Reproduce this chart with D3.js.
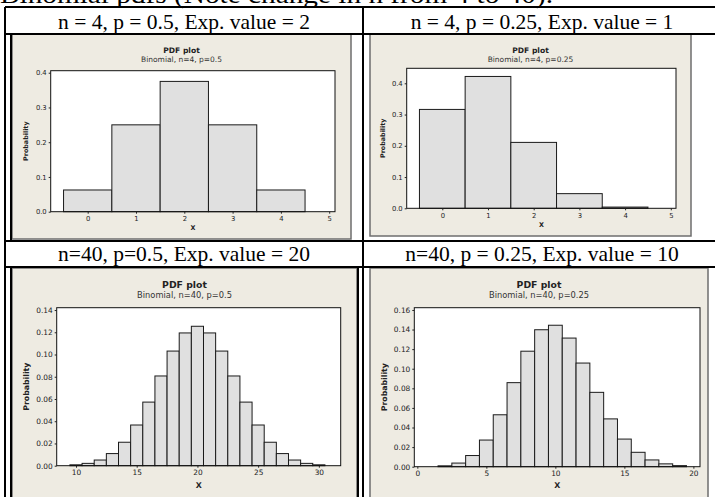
<!DOCTYPE html>
<html>
<head>
<meta charset="utf-8">
<script src="https://cdn.jsdelivr.net/npm/d3@7"></script>
<style>
  html, body { margin: 0; padding: 0; background: #ffffff; }
  svg { display: block; }
</style>
</head>
<body>
<svg id="chart" width="715" height="497"></svg>
<script>
// ---------------- DATA ----------------
const pageTitle = "Binomial pdfs (Note change in n from 4 to 40).";
const cellHeaders = [
  "n = 4, p = 0.5, Exp. value = 2",
  "n = 4, p = 0.25, Exp. value = 1",
  "n=40, p=0.5, Exp. value = 20",
  "n=40, p = 0.25, Exp. value = 10"
];
const plotTitles = ["PDF plot", "PDF plot", "PDF plot", "PDF plot"];
const plotSubtitles = [
  "Binomial, n=4, p=0.5",
  "Binomial, n=4, p=0.25",
  "Binomial, n=40, p=0.5",
  "Binomial, n=40, p=0.25"
];
const xLabel = "X";
const yLabel = "Probability";

// bar x-values and probabilities
const xs1 = [0, 1, 2, 3, 4];
const ps1 = [0.0625, 0.25, 0.375, 0.25, 0.0625];

const xs2 = [0, 1, 2, 3, 4];
const ps2 = [0.3164, 0.4219, 0.2109, 0.0469, 0.0039];

const xs3 = [10, 11, 12, 13, 14, 15, 16, 17, 18, 19, 20, 21, 22, 23, 24, 25, 26, 27, 28, 29, 30];
const ps3 = [0.0008, 0.0021, 0.0051, 0.0109, 0.0211, 0.0366, 0.0572, 0.0807, 0.1031, 0.1194, 0.1254,
             0.1194, 0.1031, 0.0807, 0.0572, 0.0366, 0.0211, 0.0109, 0.0051, 0.0021, 0.0008];

const xs4 = [2, 3, 4, 5, 6, 7, 8, 9, 10, 11, 12, 13, 14, 15, 16, 17, 18, 19];
const ps4 = [0.0009, 0.0037, 0.0114, 0.0272, 0.0530, 0.0858, 0.1179, 0.1398, 0.1444, 0.1313,
             0.1058, 0.0759, 0.0488, 0.0282, 0.0147, 0.0069, 0.0029, 0.0011];

// tick values
const xTicks1 = [0, 1, 2, 3, 4, 5];
const yTicks1 = [0.0, 0.1, 0.2, 0.3, 0.4];
const xTicks2 = [0, 1, 2, 3, 4, 5];
const yTicks2 = [0.0, 0.1, 0.2, 0.3, 0.4];
const xTicks3 = [10, 15, 20, 25, 30];
const yTicks3 = [0.00, 0.02, 0.04, 0.06, 0.08, 0.10, 0.12, 0.14];
const xTicks4 = [0, 5, 10, 15, 20];
const yTicks4 = [0.00, 0.02, 0.04, 0.06, 0.08, 0.10, 0.12, 0.14, 0.16];

// axis ranges (Minitab-like padding)
const xDom1 = [-0.766, 5.12], yDom1 = [0, 0.4058];
const xDom2 = [-0.779, 5.114], yDom2 = [0, 0.448];
const xDom3 = [8.41, 31.8],  yDom3 = [0, 0.1421];
const xDom4 = [-0.22, 20.48], yDom4 = [0, 0.1623];

// ---------------- LAYOUT ----------------
const svg = d3.select("#chart");
const BEIGE = "#eeebe2";
const BAR = "#e0e0e0";

const panels = [
  { header: cellHeaders[0], title: plotTitles[0], sub: plotSubtitles[0], xs: xs1, ps: ps1,
    xTicks: xTicks1, yTicks: yTicks1, xDom: xDom1, yDom: yDom1, yFmt: d3.format(".1f"),
    box: [12, 34, 351, 239], plot: [50.7, 70.7, 335, 211.7],
    titleY: 52.5, subY: 61.5, xLabY: 229.5, yLabX: 26, fT: 7.6, fS: 7.5, fK: 6.8, fA: 6.4 },
  { header: cellHeaders[1], title: plotTitles[1], sub: plotSubtitles[1], xs: xs2, ps: ps2,
    xTicks: xTicks2, yTicks: yTicks2, xDom: xDom2, yDom: yDom2, yFmt: d3.format(".1f"),
    box: [370, 34, 691, 236], plot: [406.7, 68.3, 676, 208.3],
    titleY: 52.5, subY: 61.5, xLabY: 226.5, yLabX: 383, fT: 7.6, fS: 7.5, fK: 6.8, fA: 6.4 },
  { header: cellHeaders[2], title: plotTitles[2], sub: plotSubtitles[2], xs: xs3, ps: ps3,
    xTicks: xTicks3, yTicks: yTicks3, xDom: xDom3, yDom: yDom3, yFmt: d3.format(".2f"),
    box: [12, 268, 357, 500], plot: [56.7, 307.7, 340.7, 465.7],
    titleY: 287.5, subY: 297.5, xLabY: 488, yLabX: 26, fT: 9.3, fS: 8.3, fK: 7.4, fA: 7.8 },
  { header: cellHeaders[3], title: plotTitles[3], sub: plotSubtitles[3], xs: xs4, ps: ps4,
    xTicks: xTicks4, yTicks: yTicks4, xDom: xDom4, yDom: yDom4, yFmt: d3.format(".2f"),
    box: [370, 268, 708, 500], plot: [414.3, 307.7, 700, 466.7],
    titleY: 287.5, subY: 297.5, xLabY: 488, yLabX: 384, fT: 9.3, fS: 8.3, fK: 7.4, fA: 7.8 }
];

// page title (mostly cut off at top, as in the source)
svg.append("text")
  .attr("x", 0).attr("y", 3)
  .attr("font-family", "Liberation Serif, Times New Roman, serif")
  .attr("font-size", 25)
  .attr("textLength", 553).attr("lengthAdjust", "spacingAndGlyphs")
  .attr("fill", "#000")
  .text(pageTitle);

// cell headers
const headerPos = [[184, 29], [542, 29], [184, 261], [542, 261]];
panels.forEach((p, i) => {
  svg.append("text")
    .attr("x", headerPos[i][0]).attr("y", headerPos[i][1])
    .attr("text-anchor", "middle")
    .attr("font-family", "Liberation Serif, Times New Roman, serif")
    .attr("font-size", 21.5)
    .attr("fill", "#000")
    .text(p.header);
});

// panels
panels.forEach(p => {
  const [bx0, by0, bx1, by1] = p.box;
  const [px0, py0, px1, py1] = p.plot;
  const g = svg.append("g");

  g.append("rect")
    .attr("x", bx0).attr("y", by0).attr("width", bx1 - bx0).attr("height", by1 - by0)
    .attr("fill", BEIGE).attr("stroke", "#6e6e6e").attr("stroke-width", 1.5);

  const x = d3.scaleLinear().domain(p.xDom).range([px0, px1]);
  const y = d3.scaleLinear().domain(p.yDom).range([py1, py0]);

  g.append("rect")
    .attr("x", px0).attr("y", py0).attr("width", px1 - px0).attr("height", py1 - py0)
    .attr("fill", "#ffffff");

  // bars
  g.append("g").selectAll("rect")
    .data(p.xs.map((v, i) => ({ k: v, v: p.ps[i] })))
    .join("rect")
    .attr("x", d => x(d.k - 0.5))
    .attr("width", d => x(d.k + 0.5) - x(d.k - 0.5))
    .attr("y", d => y(d.v))
    .attr("height", d => y(0) - y(d.v))
    .attr("fill", BAR)
    .attr("stroke", "#1a1a1a")
    .attr("stroke-width", 1);

  // plot frame
  g.append("rect")
    .attr("x", px0).attr("y", py0).attr("width", px1 - px0).attr("height", py1 - py0)
    .attr("fill", "none").attr("stroke", "#111").attr("stroke-width", 1);

  // axes
  const xAxis = g.append("g")
    .attr("transform", `translate(0,${py1})`)
    .call(d3.axisBottom(x).tickValues(p.xTicks).tickSize(2).tickPadding(2.5).tickFormat(d3.format("d")));
  const yAxis = g.append("g")
    .attr("transform", `translate(${px0},0)`)
    .call(d3.axisLeft(y).tickValues(p.yTicks).tickSize(2).tickPadding(2).tickFormat(p.yFmt));
  [xAxis, yAxis].forEach(a => {
    a.select(".domain").remove();
    a.selectAll("line").attr("stroke", "#222");
    a.selectAll("text")
      .attr("font-family", "DejaVu Sans, sans-serif")
      .attr("font-size", p.fK)
      .attr("fill", "#222");
  });

  const cx = (bx0 + bx1) / 2;
  g.append("text")
    .attr("x", cx).attr("y", p.titleY)
    .attr("text-anchor", "middle")
    .attr("font-family", "DejaVu Sans, sans-serif")
    .attr("font-weight", "bold")
    .attr("font-size", p.fT)
    .attr("fill", "#222")
    .text(p.title);
  g.append("text")
    .attr("x", cx).attr("y", p.subY)
    .attr("text-anchor", "middle")
    .attr("font-family", "DejaVu Sans, sans-serif")
    .attr("font-size", p.fS)
    .attr("fill", "#333")
    .text(p.sub);

  g.append("text")
    .attr("x", (px0 + px1) / 2).attr("y", p.xLabY)
    .attr("text-anchor", "middle")
    .attr("font-family", "DejaVu Sans, sans-serif")
    .attr("font-weight", "bold")
    .attr("font-size", p.fA)
    .attr("fill", "#222")
    .text(xLabel);

  const yc = (py0 + py1) / 2;
  g.append("text")
    .attr("transform", `translate(${p.yLabX},${yc}) rotate(-90)`)
    .attr("text-anchor", "middle")
    .attr("dy", "0.35em")
    .attr("font-family", "DejaVu Sans, sans-serif")
    .attr("font-weight", "bold")
    .attr("font-size", p.fA)
    .attr("fill", "#222")
    .text(yLabel);
});

// table lines
const lines = [
  [5, 7, 715, 7],
  [5, 34, 715, 34],
  [5, 241, 715, 241],
  [5, 267, 715, 267],
  [5, 7, 5, 497],
  [363, 7, 363, 497],
  [358, 267, 358, 497],
  [11, 34, 11, 241],
  [11, 267, 11, 497]
];
svg.append("g").selectAll("line")
  .data(lines)
  .join("line")
  .attr("x1", d => d[0]).attr("y1", d => d[1])
  .attr("x2", d => d[2]).attr("y2", d => d[3])
  .attr("stroke", "#000").attr("stroke-width", 1.2)
  .attr("shape-rendering", "crispEdges");
</script>
</body>
</html>
